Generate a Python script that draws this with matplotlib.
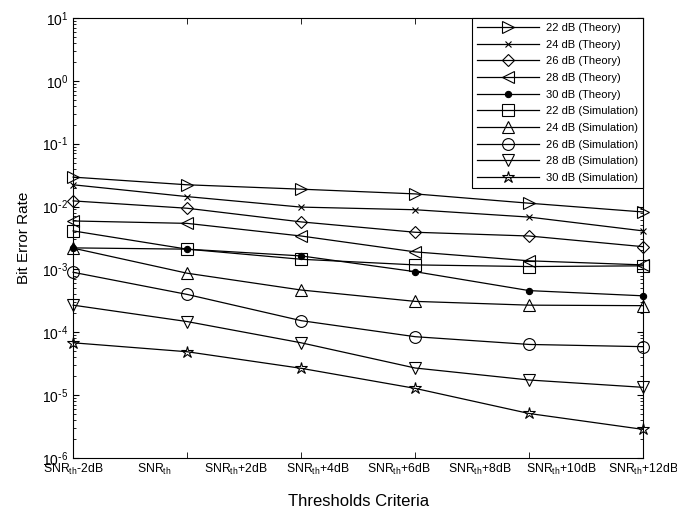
import numpy as np
import matplotlib
matplotlib.use("Agg")
import matplotlib.pyplot as plt
from matplotlib.ticker import FixedLocator, LogLocator, NullFormatter, FuncFormatter

plt.rcParams["font.family"] = ["Liberation Sans", "DejaVu Sans"]
plt.rcParams["mathtext.default"] = "regular"
plt.rcParams["axes.unicode_minus"] = False

# data
x = np.arange(6)
tick_labels = [r"SNR$_{th}$-2dB", r"SNR$_{th}$", r"SNR$_{th}$+2dB", r"SNR$_{th}$+4dB",
               r"SNR$_{th}$+6dB", r"SNR$_{th}$+8dB", r"SNR$_{th}$+10dB", r"SNR$_{th}$+12dB"]

theory_22 = [0.0294, 0.0222, 0.0189, 0.0159, 0.0113, 0.0082]
theory_24 = [0.0222, 0.0144, 0.0098, 0.0089, 0.0068, 0.0041]
theory_26 = [0.0123, 0.0094, 0.0057, 0.0039, 0.0034, 0.0023]
theory_28 = [0.0059, 0.0054, 0.0034, 0.0019, 0.00137, 0.00118]
theory_30 = [0.0022, 0.0021, 0.00164, 0.00092, 0.00046, 0.00038]
sim_22 = [0.0041, 0.0021, 0.00145, 0.00118, 0.00111, 0.00114]
sim_24 = [0.00218, 0.00087, 0.00047, 0.00031, 0.00027, 0.000265]
sim_26 = [0.0009, 0.0004, 0.000153, 8.5e-5, 6.4e-5, 5.9e-5]
sim_28 = [0.00027, 0.000148, 6.8e-5, 2.7e-5, 1.74e-5, 1.33e-5]
sim_30 = [6.8e-5, 4.9e-5, 2.67e-5, 1.28e-5, 5.1e-6, 2.85e-6]

series = [
    (theory_22, ">", 9, "none", "22 dB (Theory)"),
    (theory_24, "x", 4, "none", "24 dB (Theory)"),
    (theory_26, "D", 6.5, "none", "26 dB (Theory)"),
    (theory_28, "<", 9, "none", "28 dB (Theory)"),
    (theory_30, "o", 4.5, "black", "30 dB (Theory)"),
    (sim_22, "s", 8.5, "none", "22 dB (Simulation)"),
    (sim_24, "^", 9, "none", "24 dB (Simulation)"),
    (sim_26, "o", 8.5, "none", "26 dB (Simulation)"),
    (sim_28, "v", 9, "none", "28 dB (Simulation)"),
    (sim_30, "*", 9, "none", "30 dB (Simulation)"),
]


def pow_label(v, pos):
    e = int(round(np.log10(v)))
    if e < 0:
        return r"$10^{\text{-}%d}$" % (-e)
    return r"$10^{%d}$" % e


fig = plt.figure(figsize=(6.77, 5.14), dpi=100)
ax = fig.add_axes([0.108, 0.109, 0.842, 0.856])

for vals, mk, ms, fc, lab in series:
    ax.semilogy(x, vals, color="black", lw=0.9, marker=mk, markersize=ms,
                markerfacecolor=fc, markeredgecolor="black", markeredgewidth=0.8,
                label=lab, clip_on=False)

ax.set_xlim(0, 5)
ax.set_ylim(1e-6, 1e1)

# 8 labels evenly across the axis, tick marks at the 6 data points
ax.set_xticks(np.linspace(0, 5, 8))
ax.set_xticklabels(tick_labels, fontsize=8.8)
ax.tick_params(axis="x", which="major", length=0, pad=3)
ax.xaxis.set_minor_locator(FixedLocator(x))
ax.tick_params(axis="x", which="minor", direction="in", length=4, top=True)

ax.yaxis.set_major_locator(LogLocator(base=10, numticks=10))
ax.yaxis.set_major_formatter(FuncFormatter(pow_label))
ax.yaxis.set_minor_locator(LogLocator(base=10, subs=np.arange(2, 10), numticks=10))
ax.yaxis.set_minor_formatter(NullFormatter())
ax.tick_params(axis="y", which="major", direction="in", length=4, right=True, labelsize=10)
ax.tick_params(axis="y", which="minor", direction="in", length=2, right=True)

for s in ax.spines.values():
    s.set_linewidth(0.8)

ax.set_ylabel("Bit Error Rate", fontsize=11, labelpad=8)
ax.set_xlabel("Thresholds Criteria", fontsize=12, labelpad=12)

leg = ax.legend(loc="upper right", fontsize=8, handlelength=5.6, borderaxespad=0,
                fancybox=False, edgecolor="black", framealpha=1,
                labelspacing=0.6, borderpad=0.45, handletextpad=0.6)
leg.get_frame().set_linewidth(0.8)

fig.savefig("out.png", dpi=100)
